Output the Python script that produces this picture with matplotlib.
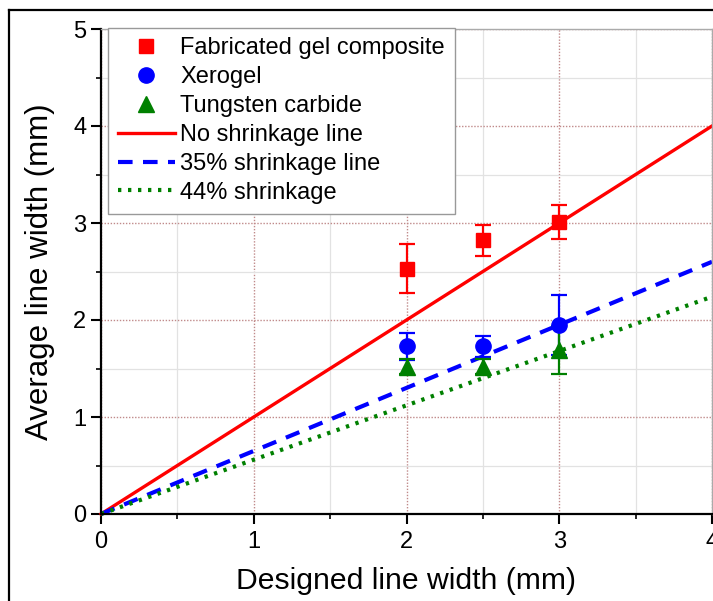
import matplotlib
matplotlib.use("Agg")
import matplotlib.pyplot as plt
from matplotlib.lines import Line2D
from matplotlib.ticker import MultipleLocator
import numpy as np

plt.rcParams['font.family'] = ['Liberation Sans', 'DejaVu Sans']

# data
designed = [2.0, 2.5, 3.0]
gel_mean = [2.53, 2.82, 3.01]
gel_err = [0.25, 0.16, 0.18]
xero_mean = [1.73, 1.73, 1.95]
xero_err = [0.14, 0.11, 0.31]
wc_mean = [1.52, 1.52, 1.69]
wc_err = [0.08, 0.08, 0.25]

line_x = [0, 4]
shrink = {'No shrinkage line': 0.0, '35% shrinkage line': 0.35, '44% shrinkage': 0.44}

fig = plt.figure(figsize=(7.13, 6.01), dpi=100)
ax = fig.add_axes([101 / 713, 1 - 514 / 601, 611 / 713, 485 / 601])

# grid: minor light gray, major dotted reddish
ax.xaxis.set_major_locator(MultipleLocator(1))
ax.xaxis.set_minor_locator(MultipleLocator(0.5))
ax.yaxis.set_major_locator(MultipleLocator(1))
ax.yaxis.set_minor_locator(MultipleLocator(0.5))
ax.grid(which='minor', color='#e2e2e2', lw=0.9, ls='-')
ax.grid(which='major', color='#c08a8a', lw=1.0, ls=(0, (1, 1.2)))
ax.set_axisbelow(True)

# reference lines
styles = [('red', '-'), ('blue', (0, (3.5, 2.5))), ('green', (0, (0.8, 1.6)))]
line_handles = []
for (lab, s), (c, ls) in zip(shrink.items(), styles):
    y = [v * (1 - s) for v in line_x]
    h, = ax.plot(line_x, y, color=c, ls=ls, lw=2.4 if c == 'red' else 3.0,
                 label=lab, zorder=2, clip_on=False)
    line_handles.append(h)

kw = dict(ls='none', capsize=6, elinewidth=1.6, capthick=1.6, zorder=3)
h1 = ax.errorbar(designed, gel_mean, yerr=gel_err, fmt='s', color='red', ms=10,
                 label='Fabricated gel composite', **kw)
h2 = ax.errorbar(designed, xero_mean, yerr=xero_err, fmt='o', color='blue', ms=11,
                 label='Xerogel', **kw)
h3 = ax.errorbar(designed, wc_mean, yerr=wc_err, fmt='^', color='green', ms=11,
                 label='Tungsten carbide', **kw)

ax.set_xlim(0, 4)
ax.set_ylim(0, 5)

for side in ['top', 'right']:
    ax.spines[side].set_color('#aaaaaa')
    ax.spines[side].set_linewidth(1.0)
for side in ['left', 'bottom']:
    ax.spines[side].set_linewidth(1.6)

ax.tick_params(which='major', direction='out', length=7, width=1.5, labelsize=17,
               top=False, right=False)
ax.tick_params(which='minor', direction='out', length=3.6, width=1.2,
               top=False, right=False)
ax.tick_params(axis='x', pad=5)
ax.tick_params(axis='y', pad=3.5)

ax.set_xlabel('Designed line width (mm)', fontsize=21.7, labelpad=10)
ax.set_ylabel('Average line width (mm)', fontsize=22.5, labelpad=13)

mk = [Line2D([], [], ls='none', marker='s', color='red', ms=10),
      Line2D([], [], ls='none', marker='o', color='blue', ms=11),
      Line2D([], [], ls='none', marker='^', color='green', ms=11)]
labels = ['Fabricated gel composite', 'Xerogel', 'Tungsten carbide'] + list(shrink.keys())
leg = ax.legend(mk + line_handles, labels, loc='upper left', fontsize=17,
                handlelength=2.4, labelspacing=0.29, handletextpad=0.25,
                bbox_to_anchor=(7 / 611, 1.003), borderaxespad=0, borderpad=0.42,
                fancybox=False, framealpha=1, edgecolor='#999999')
leg.get_frame().set_linewidth(1.0)

# outer frame of the panel
fig.add_artist(Line2D([9 / 713, 9 / 713], [-0.1, 1 - 10 / 601], color='black', lw=1.6,
                      transform=fig.transFigure))
fig.add_artist(Line2D([9 / 713, 1.1], [1 - 10 / 601, 1 - 10 / 601], color='black', lw=1.6,
                      transform=fig.transFigure))

fig.savefig('out.png', dpi=100)
